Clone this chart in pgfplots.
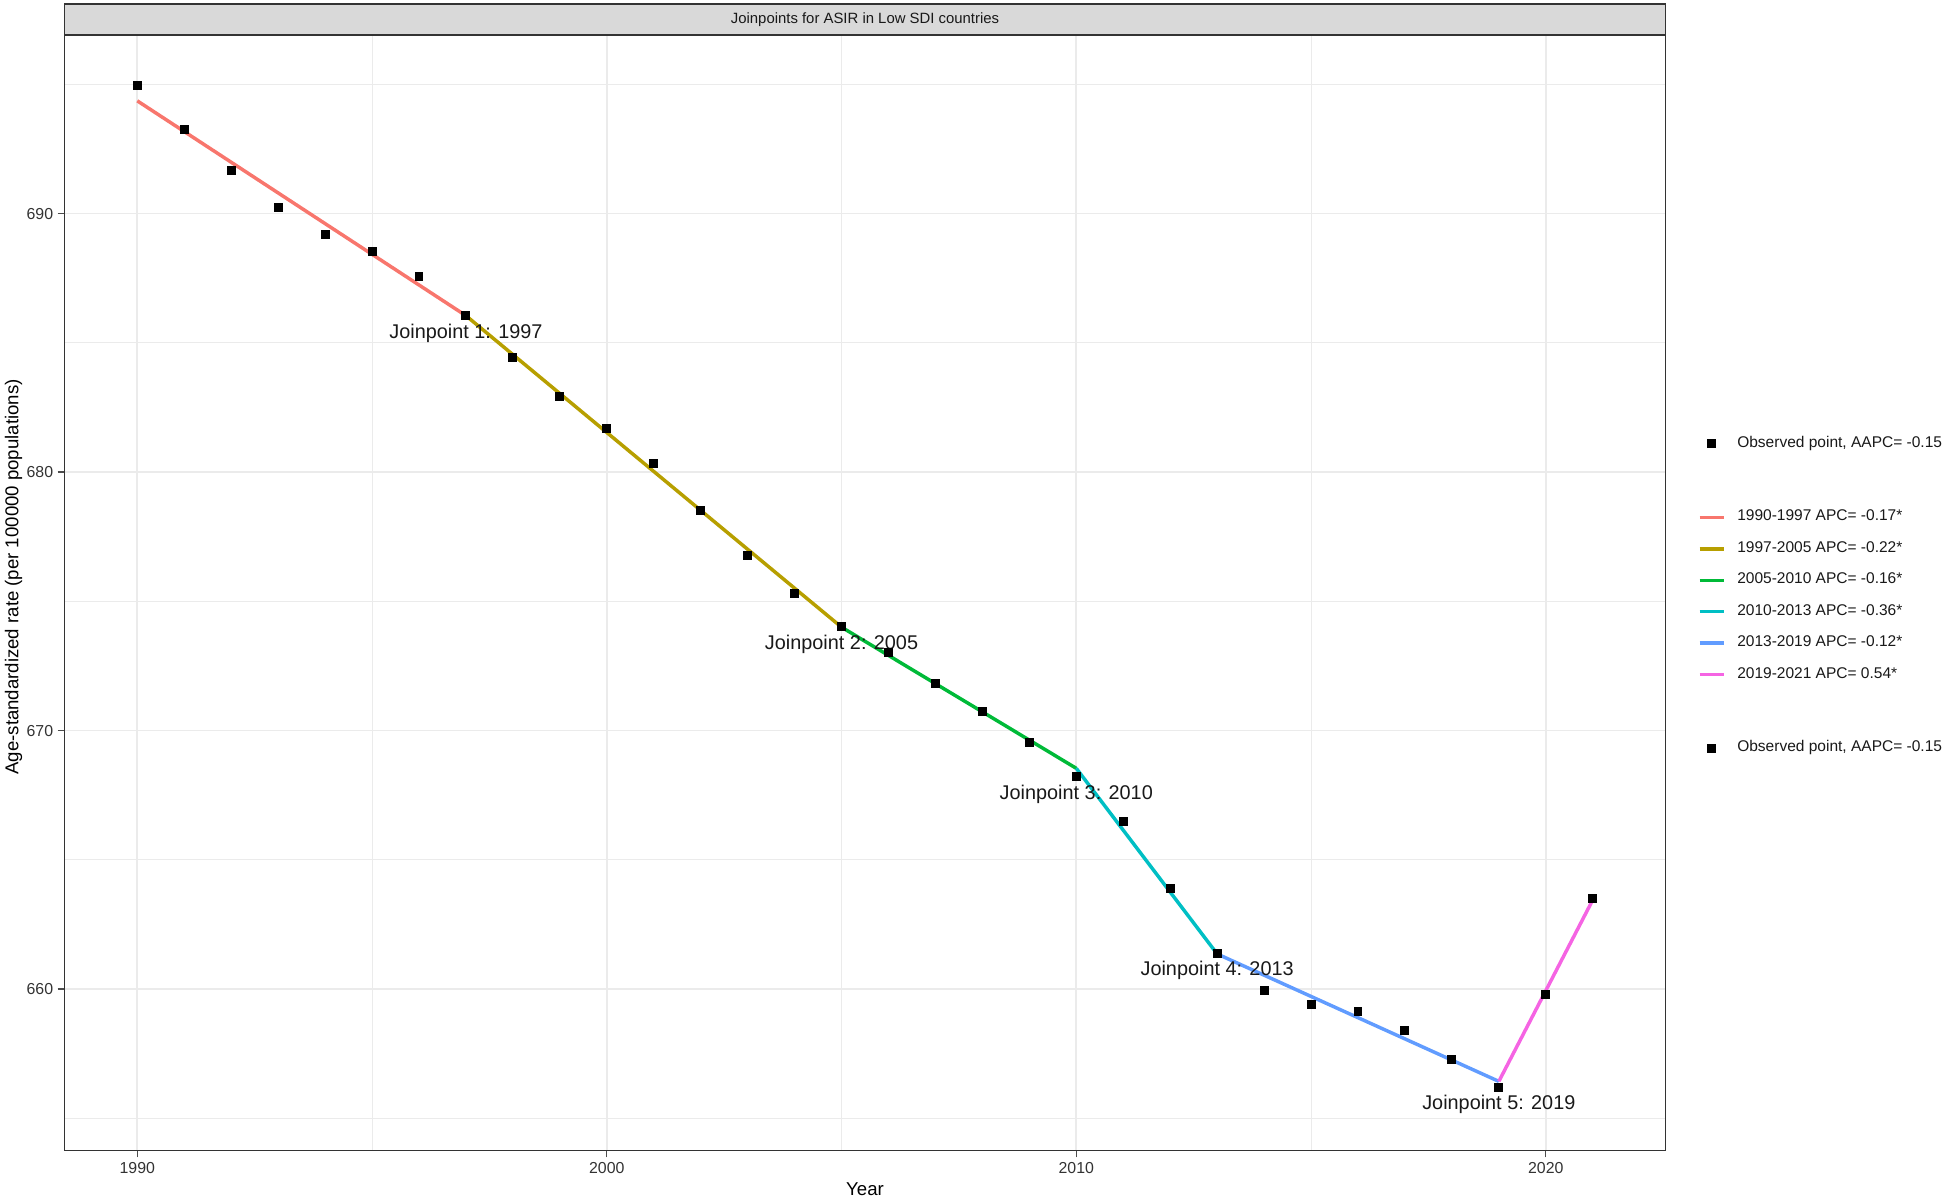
\documentclass[border=0pt]{standalone}
\usepackage{fontspec}
\setmainfont{Liberation Sans}
\usepackage{pgfplots}
\pgfplotsset{compat=1.18}

\definecolor{seg1}{HTML}{F8766D}
\definecolor{seg2}{HTML}{B79F00}
\definecolor{seg3}{HTML}{00BA38}
\definecolor{seg4}{HTML}{00BFC4}
\definecolor{seg5}{HTML}{619CFF}
\definecolor{seg6}{HTML}{F564E3}
\definecolor{gridgray}{HTML}{EBEBEB}
\definecolor{stripgray}{HTML}{D9D9D9}
\definecolor{bordergray}{HTML}{333333}

\begin{document}
\begin{tikzpicture}
\begin{axis}[
  width=645pt, height=449.5pt, scale only axis,
  xmin=1988.45, xmax=2022.55,
  ymin=653.76, ymax=696.92,
  axis line style={bordergray, line width=0.7pt},
  xtick={1990,2000,2010,2020},
  ytick={660,670,680,690},
  minor xtick={1995,2005,2015},
  minor ytick={655,665,675,685,695},
  grid=both,
  major grid style={gridgray, line width=0.7pt},
  minor grid style={gridgray, line width=0.35pt},
  tick align=outside, tick pos=left,
  major tick length=2.8pt, minor tick length=0pt,
  tick style={black!70, line width=0.5pt},
  /pgf/number format/assume math mode=true,
  /pgf/number format/1000 sep={},
  ticklabel style={font=\fontsize{6.4}{7}\selectfont, text=black!80},
  xticklabel style={inner sep=0pt, anchor=north, yshift=-1.9pt},
  yticklabel style={inner sep=0pt, anchor=east, xshift=-1.6pt},
  xlabel={Year},
  ylabel={Age-standardized rate (per 100000 populations)},
  label style={font=\fontsize{7.5}{9}\selectfont, text=black, inner sep=0pt},
  xlabel style={at={(axis description cs:0.5,0)}, anchor=center, yshift=-15.5pt},
  ylabel style={at={(axis description cs:-0.0318,0.514)}, anchor=center},
  clip=false,
  legend cell align=left,
  legend image code/.code={\draw[#1] (0pt,0pt) -- (10pt,0pt);},
  legend style={at={(axis description cs:1,0.5)}, xshift=13pt, yshift=-1.4pt, anchor=west,
    draw=none, fill=none, inner sep=0pt, outer sep=0pt,
    row sep=6.8pt, column sep=4.5pt,
    font=\fontsize{6.25}{7}\selectfont,
    nodes={inner sep=0pt, text=black!90}},
]

% fitted joinpoint segments
\addplot[seg1, line width=1.4pt, forget plot] coordinates {(1990,694.36) (1997,686.05)};
\addplot[seg2, line width=1.4pt, forget plot] coordinates {(1997,686.05) (2005,674.00)};
\addplot[seg3, line width=1.4pt, forget plot] coordinates {(2005,674.00) (2010,668.54)};
\addplot[seg4, line width=1.4pt, forget plot] coordinates {(2010,668.54) (2013,661.36)};
\addplot[seg5, line width=1.4pt, forget plot] coordinates {(2013,661.36) (2019,656.43)};
\addplot[seg6, line width=1.4pt, forget plot] coordinates {(2019,656.43) (2021,663.45)};

% observed points
\addplot[only marks, mark=square*, mark size=1.6pt, black, forget plot] coordinates {
  (1990,694.94) (1991,693.25) (1992,691.67) (1993,690.24) (1994,689.19)
  (1995,688.52) (1996,687.56) (1997,686.05) (1998,684.42) (1999,682.91)
  (2000,681.68) (2001,680.33) (2002,678.53) (2003,676.79) (2004,675.29)
  (2005,674.04) (2006,673.01) (2007,671.82) (2008,670.75) (2009,669.55)
  (2010,668.22) (2011,666.49) (2012,663.88) (2013,661.39) (2014,659.94)
  (2015,659.39) (2016,659.15) (2017,658.40) (2018,657.27) (2019,656.21)
  (2020,659.79) (2021,663.51)
};

% legend
\addlegendimage{legend image code/.code={\fill[black] (3.4pt,-1.6pt) rectangle (6.6pt,1.6pt);}}
\addlegendentry{Observed point, AAPC= -0.15}
\addlegendimage{empty legend}
\addlegendentry{\rule{0pt}{8.6pt}}
\addlegendimage{seg1, line width=1.4pt}
\addlegendentry{1990-1997 APC= -0.17*}
\addlegendimage{seg2, line width=1.4pt}
\addlegendentry{1997-2005 APC= -0.22*}
\addlegendimage{seg3, line width=1.4pt}
\addlegendentry{2005-2010 APC= -0.16*}
\addlegendimage{seg4, line width=1.4pt}
\addlegendentry{2010-2013 APC= -0.36*}
\addlegendimage{seg5, line width=1.4pt}
\addlegendentry{2013-2019 APC= -0.12*}
\addlegendimage{seg6, line width=1.4pt}
\addlegendentry{2019-2021 APC= 0.54*}
\addlegendimage{empty legend}
\addlegendentry{\rule{0pt}{8.6pt}}
\addlegendimage{legend image code/.code={\fill[black] (3.4pt,-1.6pt) rectangle (6.6pt,1.6pt);}}
\addlegendentry{Observed point, AAPC= -0.15}

% joinpoint labels
\node[font=\fontsize{8}{9}\selectfont, text=black!90] at (axis cs:1997,685.36) {Joinpoint 1: 1997};
\node[font=\fontsize{8}{9}\selectfont, text=black!90] at (axis cs:2005,673.33) {Joinpoint 2: 2005};
\node[font=\fontsize{8}{9}\selectfont, text=black!90] at (axis cs:2010,667.54) {Joinpoint 3: 2010};
\node[font=\fontsize{8}{9}\selectfont, text=black!90] at (axis cs:2013,660.72) {Joinpoint 4: 2013};
\node[font=\fontsize{8}{9}\selectfont, text=black!90] at (axis cs:2019,655.54) {Joinpoint 5: 2019};

% facet strip
\filldraw[fill=stripgray, draw=bordergray, line width=0.7pt]
  (axis description cs:0,1) rectangle (axis description cs:1,1.0278);
\node[font=\fontsize{6}{7}\selectfont, text=black!90] at (axis description cs:0.5,1.0139)
  {Joinpoints for ASIR in Low SDI countries};

% page extent
\path (axis description cs:-0.0403,-0.0456) rectangle (axis description cs:1.1752,1.0311);
\end{axis}
\end{tikzpicture}
\end{document}
